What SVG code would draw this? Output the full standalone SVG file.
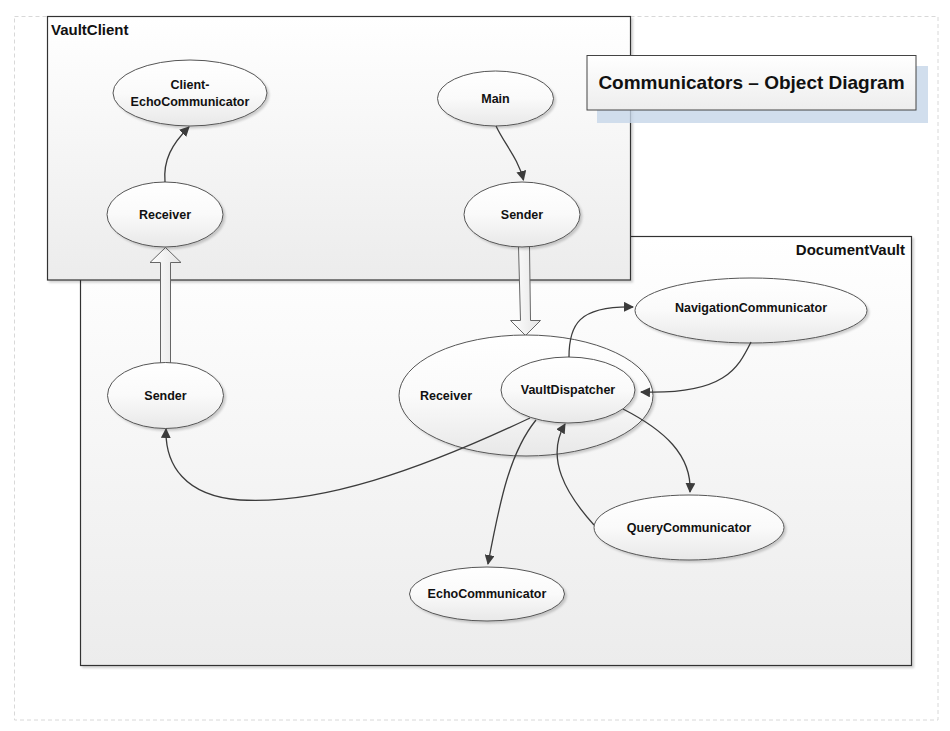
<svg xmlns="http://www.w3.org/2000/svg" width="950" height="731" viewBox="0 0 950 731">
<style>
.lbl{font-family:"Liberation Sans",Arial,sans-serif;font-weight:bold;font-size:12.5px;fill:#111;text-anchor:middle}
.cont{stroke:#333;stroke-width:1.2;fill:url(#boxg)}
.node{stroke:#555;stroke-width:1;fill:url(#ellg)}
.conn{fill:none;stroke:#3c3c3c;stroke-width:1.3;marker-end:url(#ah)}
.block{fill:url(#blockg);stroke:#666;stroke-width:1}
.clbl{font-family:"Liberation Sans",Arial,sans-serif;font-weight:bold;font-size:15px;fill:#111}
</style>
<defs>
<linearGradient id="boxg" x1="0" y1="0" x2="0" y2="1"><stop offset="0" stop-color="#ffffff"/><stop offset="1" stop-color="#ececec"/></linearGradient>
<linearGradient id="ellg" x1="0" y1="0" x2="0" y2="1"><stop offset="0" stop-color="#ffffff"/><stop offset="0.5" stop-color="#fafafa"/><stop offset="1" stop-color="#e8e8e8"/></linearGradient>
<linearGradient id="blockg" x1="0" y1="0" x2="1" y2="0"><stop offset="0" stop-color="#ffffff"/><stop offset="1" stop-color="#e4e4e4"/></linearGradient>
<linearGradient id="titleg" x1="0" y1="0" x2="0" y2="1"><stop offset="0" stop-color="#ffffff"/><stop offset="1" stop-color="#ededed"/></linearGradient>
<filter id="sh" x="-10%" y="-10%" width="130%" height="130%"><feDropShadow dx="2" dy="2" stdDeviation="1.2" flood-color="#000" flood-opacity="0.18"/></filter>
<marker id="ah" viewBox="0 0 10 10" refX="9" refY="5" markerWidth="10" markerHeight="10" markerUnits="userSpaceOnUse" orient="auto"><path d="M0,0 L10,5 L0,10 z" fill="#3c3c3c"/></marker>
</defs>
<rect x="0" y="0" width="950" height="731" fill="#fff"/>
<rect x="14.5" y="16.5" width="923.5" height="703.5" fill="none" stroke="#d8d8d8" stroke-dasharray="4,3" stroke-width="1"/>

<g id="DocumentVault">
<rect class="cont" x="80.5" y="236.5" width="831" height="429" filter="url(#sh)"/>
<text class="clbl" x="905" y="255" text-anchor="end">DocumentVault</text>
</g>

<g id="VaultClient">
<rect class="cont" x="47.5" y="16.5" width="583" height="263.5" filter="url(#sh)"/>
<text class="clbl" x="51" y="35">VaultClient</text>
</g>

<g id="title">
<rect x="597" y="66" width="331" height="57" fill="#c5d6e8" opacity="0.8"/>
<rect x="587" y="55.5" width="329" height="54.5" fill="url(#titleg)" stroke="#444" stroke-width="1"/>
<text x="751.5" y="89" style="font-family:'Liberation Sans',Arial,sans-serif;font-weight:bold;font-size:19px;fill:#111;text-anchor:middle">Communicators – Object Diagram</text>
</g>

<g id="block-arrows">
<path class="block" d="M160.5,363.5 L160.5,262.5 L150,262.5 L165.5,247.5 L181,262.5 L170.5,262.5 L170.5,363.5 Z"/>
<path class="block" d="M518.5,246.5 L529.5,246.5 L530.5,320.5 L540.5,320.5 L525.5,335.5 L510.5,320.5 L520.5,320.5 Z"/>
</g>

<g id="n-client-echo"><ellipse class="node" cx="190" cy="93" rx="77" ry="33" filter="url(#sh)"/><text class="lbl" x="190" y="89">Client-</text><text class="lbl" x="190" y="106">EchoCommunicator</text></g>
<g id="n-main"><ellipse class="node" cx="495.5" cy="98.5" rx="58" ry="27.5" filter="url(#sh)"/><text class="lbl" x="495.5" y="103">Main</text></g>
<g id="n-client-receiver"><ellipse class="node" cx="165" cy="214.5" rx="58" ry="32.5" filter="url(#sh)"/><text class="lbl" x="165" y="219">Receiver</text></g>
<g id="n-client-sender"><ellipse class="node" cx="522" cy="214.5" rx="58" ry="32.5" filter="url(#sh)"/><text class="lbl" x="522" y="219">Sender</text></g>

<g id="n-dv-sender"><ellipse class="node" cx="165.5" cy="395.5" rx="58" ry="33" filter="url(#sh)"/><text class="lbl" x="165.5" y="400">Sender</text></g>
<g id="n-dv-receiver"><ellipse class="node" cx="526" cy="395.5" rx="127" ry="60.5" filter="url(#sh)"/><text class="lbl" x="446" y="400">Receiver</text></g>
<g id="n-dispatcher"><ellipse class="node" cx="568" cy="390" rx="67" ry="33" filter="url(#sh)"/><text class="lbl" x="568" y="394">VaultDispatcher</text></g>
<g id="n-navigation"><ellipse class="node" cx="751" cy="310.5" rx="116" ry="32.5" filter="url(#sh)"/><text class="lbl" x="751" y="312">NavigationCommunicator</text></g>
<g id="n-query"><ellipse class="node" cx="689" cy="527.5" rx="95" ry="32.5" filter="url(#sh)"/><text class="lbl" x="689" y="532">QueryCommunicator</text></g>
<g id="n-echo"><ellipse class="node" cx="487" cy="594" rx="77.5" ry="27" filter="url(#sh)"/><text class="lbl" x="487" y="598">EchoCommunicator</text></g>

<g id="connectors">
<path class="conn" d="M165,182 C163,160 172,144 189,127"/>
<path class="conn" d="M496,126 C505,145 518,158 523.5,180"/>
<path class="conn" d="M569,357 C569,325 578,306 633,307"/>
<path class="conn" d="M751,342 C738,368 725,395 641,392"/>
<path class="conn" d="M530,418 C420,470 320,505 240,500 C185,496 165,465 166,429"/>
<path class="conn" d="M536,420 C510,452 500,500 488,564"/>
<path class="conn" d="M594,525 C566,494 545,458 565,424"/>
<path class="conn" d="M623,409 C664,430 692,455 690,492"/>
</g>
</svg>
